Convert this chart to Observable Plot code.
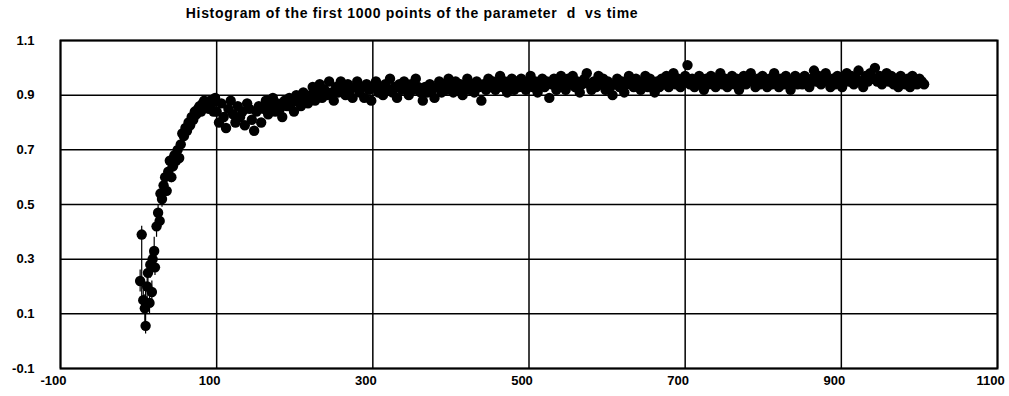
<!DOCTYPE html>
<html>
<head>
<meta charset="utf-8">
<script src="https://cdn.jsdelivr.net/npm/d3@7"></script>
<script src="https://cdn.jsdelivr.net/npm/@observablehq/plot@0.6"></script>
<style>
  body { margin: 0; background: #fff; }
  #wrap { position: relative; width: 1009px; height: 396px; }
  #title { position: absolute; top: 5px; left: 0; width: 824px; text-align: center; white-space: nowrap;
           font: bold 14px "Liberation Sans", Arial, sans-serif; color: #000; letter-spacing: 0.7px; }
  #chart { position: absolute; top: 0; left: 0; }
  #chart text { font-family: "Liberation Sans", Arial, sans-serif; font-weight: bold; }
</style>
</head>
<body>
<div id="wrap">
  <div id="chart"></div>
  <div id="title">Histogram of the first 1000 points of the parameter&nbsp; d&nbsp; vs time</div>
</div>
<script>
// Early (burn-in) samples with error bars
const earlyTime = [2,4,6,8,9,11,12,14,15,17,18,20,21,23,25,27,28,30,32,34,36,38,40,42,44,46,48,50,52,54,56,58,60,62,64,66,68,70,72,74,76,78,80,82,84,86,88,90,92,94,96,98];
const earlyD    = [0.22,0.39,0.15,0.12,0.056,0.20,0.25,0.14,0.28,0.18,0.30,0.33,0.27,0.42,0.47,0.44,0.54,0.52,0.57,0.60,0.55,0.62,0.66,0.60,0.64,0.68,0.66,0.70,0.67,0.72,0.76,0.75,0.78,0.77,0.80,0.79,0.82,0.81,0.84,0.83,0.85,0.86,0.84,0.87,0.88,0.86,0.875,0.85,0.88,0.87,0.84,0.89];
const earlyErrLo = [0.04,0.28,0.04,0.05,0.03,0.05,0.04,0.04,0.05,0.04,0.04,0.05,0.03,0.04,0.03,0.03,0.03,0.03,0.03,0.02,0.02,0.02,0.02,0.02,0.02,0.02,0.02,0.02,0.02,0.02,0.02,0.02,0.02,0.01,0.01,0.01,0.01,0.01,0.01,0.01,0.01,0.01,0.01,0.01,0.01,0.01,0.01,0.01,0.01,0.01,0.01,0.01];
const earlyErrHi = [0.04,0.03,0.05,0.05,0.16,0.05,0.04,0.05,0.05,0.04,0.04,0.05,0.03,0.04,0.03,0.03,0.03,0.03,0.03,0.02,0.02,0.02,0.02,0.02,0.02,0.02,0.02,0.02,0.02,0.02,0.02,0.02,0.02,0.01,0.01,0.01,0.01,0.01,0.01,0.01,0.01,0.01,0.01,0.01,0.01,0.01,0.01,0.01,0.01,0.01,0.01,0.01];

// Main chain, every 3 time steps from 100 to 1006
const mainStart = 100, mainStep = 3;
const mainD = [
  0.84,0.80,0.87,0.82,0.78,0.85,0.88,0.83,0.80,0.86,
  0.82,0.84,0.79,0.87,0.85,0.81,0.77,0.84,0.86,0.80,
  0.85,0.88,0.83,0.86,0.89,0.84,0.87,0.85,0.82,0.88,
  0.86,0.89,0.87,0.84,0.90,0.88,0.86,0.91,0.89,0.87,
  0.90,0.93,0.88,0.91,0.94,0.89,0.92,0.90,0.95,0.91,
  0.88,0.93,0.91,0.95,0.92,0.90,0.94,0.92,0.89,0.93,
  0.95,0.91,0.93,0.89,0.94,0.92,0.88,0.93,0.95,0.91,
  0.93,0.90,0.94,0.92,0.96,0.91,0.93,0.89,0.94,0.92,
  0.95,0.93,0.90,0.94,0.92,0.96,0.93,0.91,0.88,0.93,
  0.91,0.94,0.92,0.89,0.93,0.95,0.91,0.94,0.92,0.96,
  0.93,0.91,0.95,0.92,0.94,0.90,0.93,0.96,0.92,0.94,
  0.91,0.95,0.93,0.88,0.94,0.92,0.96,0.93,0.95,0.92,
  0.94,0.97,0.93,0.95,0.91,0.94,0.96,0.92,0.95,0.93,
  0.96,0.94,0.92,0.95,0.97,0.93,0.95,0.91,0.94,0.96,
  0.93,0.95,0.89,0.94,0.96,0.92,0.95,0.97,0.94,0.92,
  0.96,0.94,0.97,0.93,0.95,0.91,0.94,0.96,0.98,0.94,
  0.92,0.95,0.93,0.97,0.94,0.96,0.92,0.95,0.93,0.90,
  0.94,0.96,0.93,0.95,0.91,0.94,0.97,0.95,0.93,0.96,
  0.94,0.92,0.95,0.97,0.93,0.96,0.94,0.91,0.95,0.93,
  0.96,0.94,0.97,0.93,0.95,0.98,0.94,0.96,0.93,0.95,
  0.97,1.01,0.94,0.96,0.93,0.95,0.97,0.94,0.92,0.96,
  0.94,0.97,0.95,0.93,0.96,0.98,0.94,0.96,0.93,0.95,
  0.97,0.94,0.96,0.92,0.95,0.97,0.94,0.96,0.98,0.95,
  0.93,0.96,0.94,0.97,0.95,0.93,0.96,0.94,0.98,0.95,
  0.93,0.96,0.94,0.97,0.95,0.92,0.95,0.97,0.94,0.96,
  0.94,0.97,0.95,0.93,0.96,0.99,0.95,0.97,0.94,0.96,
  0.98,0.95,0.93,0.96,0.94,0.97,0.95,0.93,0.96,0.98,
  0.95,0.97,0.94,0.96,0.99,0.95,0.93,0.97,0.95,0.98,
  0.96,1.00,0.95,0.97,0.94,0.96,0.98,0.95,0.97,0.94,
  0.96,0.93,0.97,0.95,0.94,0.96,0.93,0.97,0.95,0.94,
  0.96,0.95,0.94
];

const xTicks = [-100,100,300,500,700,900,1100];
const yTicks = [-0.1,0.1,0.3,0.5,0.7,0.9,1.1];

const early = earlyTime.map((t,i) => ({t, d: earlyD[i], lo: earlyD[i]-earlyErrLo[i], hi: earlyD[i]+earlyErrHi[i]}));
const main = mainD.map((d,i) => ({t: mainStart + i*mainStep, d}));
const all = early.concat(main);

const chart = Plot.plot({
  width: 1009,
  height: 396,
  marginLeft: 60,
  marginRight: 12,
  marginTop: 40,
  marginBottom: 28,
  style: {background: "white", color: "black", fontSize: "13px"},
  x: {domain: [-100,1100], ticks: xTicks, tickSize: 0, tickPadding: 7, label: null, tickFormat: d => String(d)},
  y: {domain: [-0.1,1.1], ticks: yTicks, tickSize: 0, tickPadding: 26, label: null, tickFormat: d => d.toFixed(1)},
  marks: [
    Plot.gridX(xTicks, {stroke: "black", strokeOpacity: 1, strokeWidth: 1.5}),
    Plot.gridY(yTicks, {stroke: "black", strokeOpacity: 1, strokeWidth: 1.5}),
    Plot.ruleX(early, {x: "t", y1: "lo", y2: "hi", stroke: "black", strokeWidth: 1.2}),
    Plot.dot(all, {x: "t", y: "d", r: 5.2, fill: "black", stroke: "none"}),
    Plot.frame({stroke: "black", strokeWidth: 2})
  ]
});
// shift x tick labels slightly left, as in the reference
chart.querySelectorAll("g[aria-label='x-axis tick label'] text").forEach(t => t.setAttribute("dx", "-7"));
document.getElementById("chart").appendChild(chart);
</script>
</body>
</html>
